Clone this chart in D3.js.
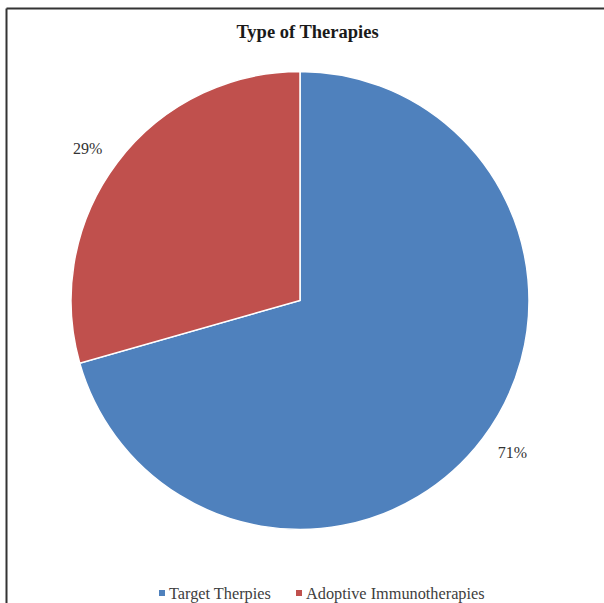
<!DOCTYPE html>
<html lang="en">
<head>
  <meta charset="UTF-8">
  <title>Type of Therapies</title>
  <script src="https://d3js.org/d3.v7.min.js"></script>
  <style>
    body { margin: 0; background: white; }
    svg { font-family: "Liberation Serif", "Times New Roman", serif; display: block; }
    .title { font-size: 18.5px; font-weight: bold; fill: #1a1a1a; }
    .pct { font-size: 16px; fill: #333; }
    .legend text { font-size: 16.3px; fill: #404040; }
  </style>
</head>
<body>
  <svg></svg>
  <script>
    const categories = ['Target Therpies', 'Adoptive Immunotherapies'];
    const values = [12, 5];
    const colors = ['#4F81BD', '#C0504D'];

    const W = 604, H = 603;
    const cx = 300, cy = 300.5, r = 229, labelR = 261;
    const labelShift = -1.5 * Math.PI / 180; // excel nudges labels slightly

    const svg = d3.select('svg').attr('width', W).attr('height', H);

    // frame (only top and left edges are visible in the crop)
    svg.append('line').attr('x1', 6.5).attr('y1', 8.5).attr('x2', W).attr('y2', 8.5)
      .attr('stroke', '#333').attr('stroke-width', 2);
    svg.append('line').attr('x1', 6.5).attr('y1', 8.5).attr('x2', 6.5).attr('y2', H)
      .attr('stroke', '#333').attr('stroke-width', 2);

    svg.append('text').attr('class', 'title')
      .attr('x', 307.5).attr('y', 38).attr('text-anchor', 'middle')
      .text('Type of Therapies');

    const total = d3.sum(values);
    const data = categories.map((c, i) => ({ name: c, value: values[i], color: colors[i] }));

    const pie = d3.pie().sort(null).value(d => d.value);
    const arc = d3.arc().innerRadius(0).outerRadius(r);

    const g = svg.append('g').attr('transform', `translate(${cx},${cy})`);
    const arcs = pie(data);

    g.selectAll('path').data(arcs).enter().append('path')
      .attr('d', arc)
      .attr('fill', d => d.data.color)
      .attr('stroke', 'white')
      .attr('stroke-width', 1.5);

    g.selectAll('.pct').data(arcs).enter().append('text')
      .attr('class', 'pct')
      .attr('transform', d => {
        const a = (d.startAngle + d.endAngle) / 2 + labelShift;
        return `translate(${labelR * Math.sin(a)},${-labelR * Math.cos(a)})`;
      })
      .attr('text-anchor', 'middle')
      .attr('dy', '0.35em')
      .text(d => Math.round(d.data.value / total * 100) + '%');

    // legend
    const legendX = [159, 296];
    const legend = svg.append('g').attr('class', 'legend');
    const items = legend.selectAll('g').data(data).enter().append('g')
      .attr('transform', (d, i) => `translate(${legendX[i]},593)`);
    items.append('rect').attr('x', 0).attr('y', -3).attr('width', 6).attr('height', 6)
      .attr('fill', d => d.color);
    items.append('text').attr('x', 10).attr('y', 0).attr('dy', '0.35em')
      .text(d => d.name);
  </script>
</body>
</html>
